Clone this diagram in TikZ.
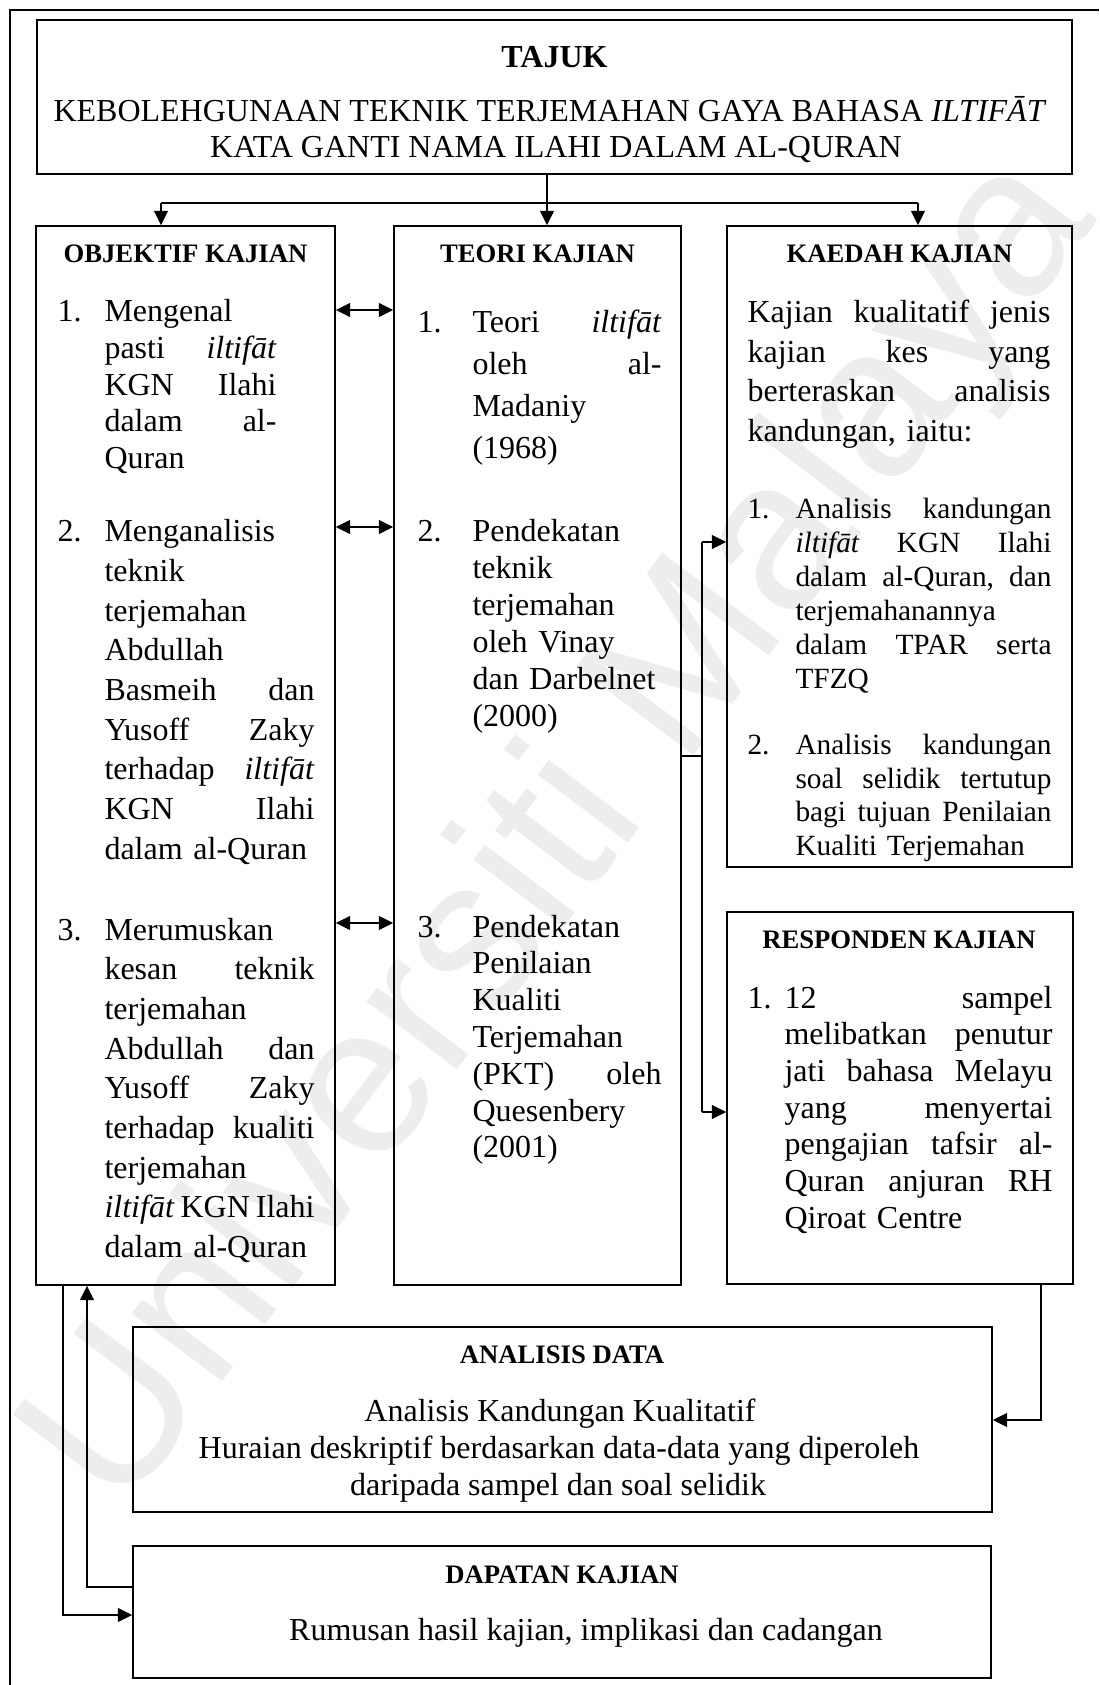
\documentclass[tikz,border=0pt]{standalone}
\usepackage{fontspec}
\setmainfont{Liberation Serif}
\newfontfamily\wmfont{Liberation Sans}
\usetikzlibrary{arrows.meta,fit}
\def\jw{100pt}
\newcommand\J[1]{\leavevmode\hbox to \jw{#1}}
\begin{document}
\begin{tikzpicture}[x=0.375pt,y=-0.375pt,
  box/.style={draw, line width=0.7pt, inner sep=0pt},
  conn/.style={line width=0.45pt},
  arr/.style={conn, -{Triangle[length=5.3pt,width=5.2pt]}},
  darr/.style={conn, {Triangle[length=5.3pt,width=5.2pt]}-{Triangle[length=5.3pt,width=5.2pt]}},
  hd/.style={font=\bfseries\fontsize{10}{12}\selectfont, anchor=base, inner sep=0pt},
  tx/.style={font=\fontsize{12}{14}\selectfont, anchor=base, inner sep=0pt},
  num/.style={font=\fontsize{12}{14}\selectfont, anchor=base west, inner sep=0pt},
  snum/.style={font=\fontsize{11}{12.5}\selectfont, anchor=base west, inner sep=0pt},
  item/.style={anchor=base west, inner sep=0pt, align=left, text width=#1,
    execute at begin node={\def\jw{#1}}},
]
\useasboundingbox (0,0) rectangle (1099,1685);
% watermark
\node[rotate=53, font=\wmfont\fontsize{80}{80}\selectfont, text=black!7, inner sep=0pt] (wm) at (565,835) {Universiti Malaya};
% outer frame
\coordinate (fa) at (10,1685);
\coordinate (fb) at (10,10);
\coordinate (fc) at (1099,10);
\draw[line width=0.8pt] (fa) -- (fb) -- (fc);

% boxes
\node[box, fit={(37,20) (1072,174)}] (title) {};
\node[box, fit={(36,226) (335,1285)}] (obj) {};
\node[box, fit={(394,226) (681,1285)}] (teori) {};
\node[box, fit={(727,226) (1072,867)}] (kaedah) {};
\node[box, fit={(727,912) (1073,1284)}] (resp) {};
\node[box, fit={(133,1327) (992,1512)}] (anal) {};
\node[box, fit={(133,1546) (991,1678)}] (dapat) {};

% title text
\node[tx, font=\bfseries\fontsize{12}{14}\selectfont] (tajuk) at (554.5,68) {TAJUK};
\node[tx] (tl2) at (550,122) {KEBOLEHGUNAAN TEKNIK TERJEMAHAN GAYA BAHASA \textit{ILTIFĀT}};
\node[tx] (tl3) at (556,158) {KATA GANTI NAMA ILAHI DALAM AL-QURAN};

% headings
\node[hd] (objh) at (185.5,263) {OBJEKTIF KAJIAN};
\node[hd] (teorih) at (537.5,263) {TEORI KAJIAN};
\node[hd] (kaedahh) at (899.5,263) {KAEDAH KAJIAN};
\node[hd] (resph) at (899,948) {RESPONDEN KAJIAN};
\node[hd] (analh) at (562,1363) {ANALISIS DATA};
\node[hd] (dapath) at (562,1583) {DAPATAN KAJIAN};

% OBJEKTIF items
\node[num] (o1n) at (57,322) {1.};
\node[num] (o2n) at (57,541.7) {2.};
\node[num] (o3n) at (57,940) {3.};
\node[item=64.5pt, font=\fontsize{12}{13.725}\selectfont] (o1) at (104,322)
  {Mengenal\\ \J{pasti\hfill\textit{iltifāt}}\\ \J{KGN\hfill Ilahi}\\ \J{dalam\hfill al-}\\ Quran};
\node[item=78.75pt, font=\fontsize{12}{14.89}\selectfont] (o2) at (104,541.7)
  {Menganalisis\\ teknik\\ terjemahan\\ Abdullah\\ \J{Basmeih\hfill dan}\\ \J{Yusoff\hfill Zaky}\\ \J{terhadap\hfill\textit{iltifāt}}\\ \J{KGN\hfill Ilahi}\\ dalam al-Quran};
\node[item=78.75pt, font=\fontsize{12}{14.89}\selectfont] (o3) at (104,940)
  {Merumuskan\\ \J{kesan\hfill teknik}\\ terjemahan\\ \J{Abdullah\hfill dan}\\ \J{Yusoff\hfill Zaky}\\ \J{terhadap\hfill kualiti}\\ terjemahan\\ \J{\textit{iltifāt}\hfill KGN\hfill Ilahi}\\ dalam al-Quran};

% TEORI items
\node[num] (t1n) at (417,333) {1.};
\node[num] (t2n) at (417,541.5) {2.};
\node[num] (t3n) at (417,937) {3.};
\node[item=70.875pt, font=\fontsize{12}{15.7}\selectfont] (t1) at (472,333)
  {\J{Teori\hfill\textit{iltifāt}}\\ \J{oleh\hfill al-}\\ Madaniy\\ (1968)};
\node[item=70.875pt, font=\fontsize{12}{13.85}\selectfont] (t2) at (472,541.5)
  {Pendekatan\\ teknik\\ terjemahan\\ oleh Vinay\\ dan Darbelnet\\ (2000)};
\node[item=70.875pt, font=\fontsize{12}{13.8}\selectfont] (t3) at (472,937)
  {Pendekatan\\ Penilaian\\ Kualiti\\ Terjemahan\\ \J{(PKT)\hfill oleh}\\ Quesenbery\\ (2001)};

% KAEDAH
\node[item=113.6pt, font=\fontsize{12}{14.78}\selectfont] (kin) at (747,323)
  {\J{Kajian\hfill kualitatif\hfill jenis}\\ \J{kajian\hfill kes\hfill yang}\\ \J{berteraskan\hfill analisis}\\ kandungan, iaitu:};
\node[snum] (k1n) at (747,518.3) {1.};
\node[snum] (k2n) at (747,754.6) {2.};
\node[item=96pt, font=\fontsize{11}{12.75}\selectfont] (k1) at (795,518.3)
  {\J{Analisis\hfill kandungan}\\ \J{\textit{iltifāt}\hfill KGN\hfill Ilahi}\\ \J{dalam\hfill al-Quran,\hfill dan}\\ terjemahanannya\\ \J{dalam\hfill TPAR\hfill serta}\\ TFZQ};
\node[item=96pt, font=\fontsize{11}{12.6}\selectfont] (k2) at (795,754.6)
  {\J{Analisis\hfill kandungan}\\ \J{soal\hfill selidik\hfill tertutup}\\ \J{bagi\hfill tujuan\hfill Penilaian}\\ Kualiti Terjemahan};

% RESPONDEN
\node[num] (r1n) at (747,1008) {1.};
\node[item=100.5pt, font=\fontsize{12}{13.76}\selectfont] (r1) at (784,1008)
  {\J{12\hfill sampel}\\ \J{melibatkan\hfill penutur}\\ \J{jati\hfill bahasa\hfill Melayu}\\ \J{yang\hfill menyertai}\\ \J{pengajian\hfill tafsir\hfill al-}\\ \J{Quran\hfill anjuran\hfill RH}\\ Qiroat Centre};

% ANALISIS DATA
\node[tx] (al1) at (560,1421) {Analisis Kandungan Kualitatif};
\node[tx] (al2) at (559,1458) {Huraian deskriptif berdasarkan data-data yang diperoleh};
\node[tx] (al3) at (558,1495) {daripada sampel dan soal selidik};

% DAPATAN
\node[tx] (dl1) at (586,1640) {Rumusan hasil kajian, implikasi dan cadangan};

% connectors from title
\coordinate (jc) at (547,203);
\coordinate (jl) at (161,203);
\coordinate (jr) at (918,203);
\draw[conn] (title.south -| jc) -- (jc);
\draw[conn] (jl) -- (jr);
\draw[arr] (jl) -- (jl |- obj.north);
\draw[arr] (jc) -- (jc |- teori.north);
\draw[arr] (jr) -- (jr |- kaedah.north);

% double arrows objektif <-> teori
\coordinate (d1) at (360,310);
\coordinate (d2) at (360,527);
\coordinate (d3) at (360,923);
\draw[darr] (obj.east |- d1) -- (teori.west |- d1);
\draw[darr] (obj.east |- d2) -- (teori.west |- d2);
\draw[darr] (obj.east |- d3) -- (teori.west |- d3);

% teori -> kaedah, responden
\coordinate (s1) at (702,756);
\coordinate (s2) at (702,542);
\coordinate (s3) at (702,1112);
\draw[conn] (teori.east |- s1) -- (s1);
\draw[conn] (s2) -- (s3);
\draw[arr] (s2) -- (kaedah.west |- s2);
\draw[arr] (s3) -- (resp.west |- s3);

% responden -> analisis
\coordinate (r1c) at (1041,1420);
\draw[arr] (resp.south -| r1c) -- (r1c) -- (anal.east |- r1c);

% objektif <-> dapatan
\coordinate (oc1) at (63,1615);
\draw[arr] (obj.south -| oc1) -- (oc1) -- (dapat.west |- oc1);
\coordinate (oc2) at (87,1587);
\draw[arr] (dapat.west |- oc2) -- (oc2) -- (oc2 |- obj.south);
\end{tikzpicture}
\end{document}
